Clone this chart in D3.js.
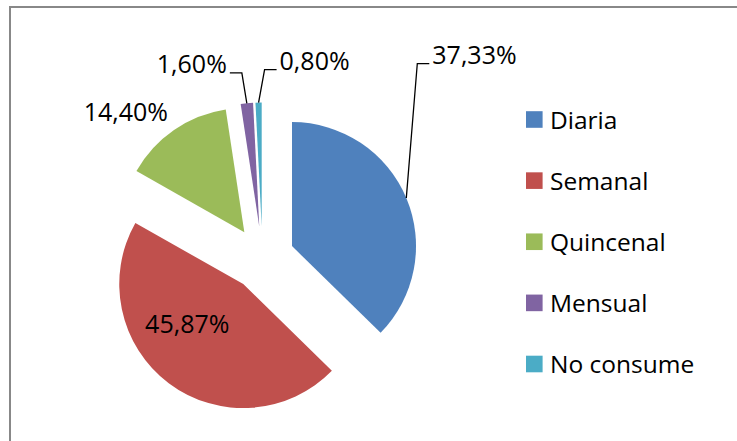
<!DOCTYPE html>
<html>
<head>
<meta charset="utf-8">
<script src="https://cdn.jsdelivr.net/npm/d3@7"></script>
<style>
    body { margin: 0; background: #fff; }
    svg { display: block; }
    text { font-family: "Open Sans", "Noto Sans", sans-serif; fill: #000; }
</style>
</head>
<body>
<svg id="pie-chart" width="737" height="441"></svg>
<script>
// data
const categories = ['Diaria', 'Semanal', 'Quincenal', 'Mensual', 'No consume'];
const percentages = [37.33, 45.87, 14.40, 1.60, 0.80];
const valueLabels = ['37,33%', '45,87%', '14,40%', '1,60%', '0,80%'];

const colors = ['#4F81BD', '#C0504D', '#9BBB59', '#8064A2', '#4BACC6'];

const width = 737;
const height = 441;
const center = [262.5, 258.5];
const radius = 124;
const explode = 32;

// label placement relative to each slice: 'leader' labels go out from the arc middle,
// 'outside' sits just past the arc, 'inside' is relative to the slice apex
const labelPlacement = [
    { mode: 'leader', dx: 26, dy: -134, anchor: 'start' },
    { mode: 'inside', dx: -56, dy: 49, anchor: 'middle' },
    { mode: 'outside', dx: -6, dy: -9, anchor: 'end' },
    { mode: 'leader', dx: -20, dy: -30, anchor: 'end' },
    { mode: 'leader', dx: 21, dy: -32.5, anchor: 'start' },
];

const svg = d3.select('#pie-chart');

// chart area border (only top and left show in the picture)
svg.append('rect')
    .attr('x', 10)
    .attr('y', 7)
    .attr('width', width + 20)
    .attr('height', height + 20)
    .attr('fill', 'none')
    .attr('stroke', '#888')
    .attr('stroke-width', 2);

const pie = d3.pie().sort(null).value((d) => d.value);
const arcs = pie(categories.map((c, i) => ({ name: c, value: percentages[i], label: valueLabels[i] })));

const arcGen = d3.arc().innerRadius(0).outerRadius(radius);

function dir(a) {
    return [Math.sin(a), -Math.cos(a)];
}

const pieG = svg.append('g').attr('transform', `translate(${center[0]},${center[1]})`);

arcs.forEach((a, i) => {
    const mid = (a.startAngle + a.endAngle) / 2;
    const [ux, uy] = dir(mid);
    const ox = ux * explode;
    const oy = uy * explode;

    pieG.append('path')
        .attr('d', arcGen(a))
        .attr('transform', `translate(${ox},${oy})`)
        .attr('fill', colors[i]);

    // point on the arc, in the middle of the slice
    const px = ux * (explode + radius);
    const py = uy * (explode + radius);
    const lp = labelPlacement[i];

    let tx, ty;
    if (lp.mode === 'inside') {
        tx = ox + lp.dx;
        ty = oy + lp.dy;
    } else {
        tx = px + lp.dx;
        ty = py + lp.dy;
    }

    if (lp.mode === 'leader') {
        const side = lp.anchor === 'start' ? -1 : 1;
        const elbowX = tx + side * 15;
        const lineY = ty - 0.5;
        pieG.append('path')
            .attr('d', d3.line()([[px, py], [elbowX, lineY], [tx + side * 3, lineY]]))
            .attr('fill', 'none')
            .attr('stroke', '#000')
            .attr('stroke-width', 1.3);
    }

    pieG.append('text')
        .attr('x', tx)
        .attr('y', ty)
        .attr('text-anchor', lp.anchor)
        .attr('font-size', 25)
        .text(a.data.label);
});

// legend
const legendY = d3.scalePoint()
    .domain(categories)
    .range([119.5, 364]);

const legend = svg.append('g');
categories.forEach((c, i) => {
    const y = legendY(c);
    legend.append('rect')
        .attr('x', 526)
        .attr('y', y - 8.3)
        .attr('width', 16.6)
        .attr('height', 16.6)
        .attr('fill', colors[i]);
    legend.append('text')
        .attr('x', 550)
        .attr('y', y + 9)
        .attr('font-size', 24.5)
        .text(c);
});
</script>
</body>
</html>
